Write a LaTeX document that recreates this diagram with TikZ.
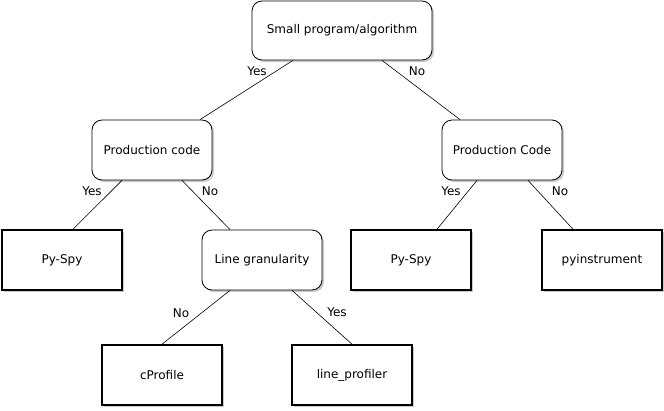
\documentclass[tikz,border=0pt]{standalone}
\usepackage{fontspec}
\setmainfont{DejaVu Sans}
\usetikzlibrary{shadows}

\begin{document}
\begin{tikzpicture}[x=1pt,y=-1pt,
ask/.style={draw,rounded corners=10pt,line width=0.8pt,fill=white,minimum width=120pt,minimum height=60pt,align=center,font=\fontsize{12}{14}\selectfont,drop shadow={shadow xshift=2pt,shadow yshift=-2pt,fill=black!35,opacity=0.6}},
tool/.style={draw,line width=1.6pt,fill=white,minimum width=120pt,minimum height=60pt,align=center,font=\fontsize{12}{14}\selectfont,drop shadow={shadow xshift=2pt,shadow yshift=-2pt,fill=black!35,opacity=0.6}},
ans/.style={font=\fontsize{12}{14}\selectfont,inner sep=0pt},
link/.style={line width=0.6pt}]
\useasboundingbox (0,0) rectangle (664,410);
\node[ask,minimum width=180pt,minimum height=59pt] (small) at (342,30.5) {Small program/algorithm};
\node[ask] (prod) at (152,150) {Production code};
\node[ask] (prodR) at (502,150) {Production Code};
\node[tool] (pyspy) at (62,260) {Py-Spy};
\node[ask] (linegran) at (262,260) {Line granularity};
\node[tool] (pyspyR) at (411,260) {Py-Spy};
\node[tool] (pyinst) at (602,260) {pyinstrument};
\node[tool] (cprof) at (162,375) {cProfile};
\node[tool] (lineprof) at (352,375) {line\_profiler};
% connectors
\draw[link] ([xshift=-49pt]small.south)--([xshift=48pt]prod.north);
\draw[link] ([xshift=40pt]small.south)--([xshift=-42pt]prodR.north);
\draw[link] ([xshift=-30pt]prod.south)--([xshift=11pt]pyspy.north);
\draw[link] ([xshift=30pt]prod.south)--([xshift=-32pt]linegran.north);
\draw[link] ([xshift=-25pt]prodR.south)--([xshift=26pt]pyspyR.north);
\draw[link] ([xshift=26pt]prodR.south)--([xshift=-29pt]pyinst.north);
\draw[link] ([xshift=-32pt]linegran.south)--(cprof.north);
\draw[link] ([xshift=30pt]linegran.south)--(lineprof.north);
% answers
\node[ans] (yes1) at (257,71) {Yes};
\node[ans] (no1) at (417,71) {No};
\node[ans] (yes2) at (92,191) {Yes};
\node[ans] (no2) at (210,191) {No};
\node[ans] (yes3) at (451,191) {Yes};
\node[ans] (no3) at (560,191) {No};
\node[ans] (no4) at (181,313) {No};
\node[ans] (yes4) at (337,312) {Yes};
\end{tikzpicture}
\end{document}
